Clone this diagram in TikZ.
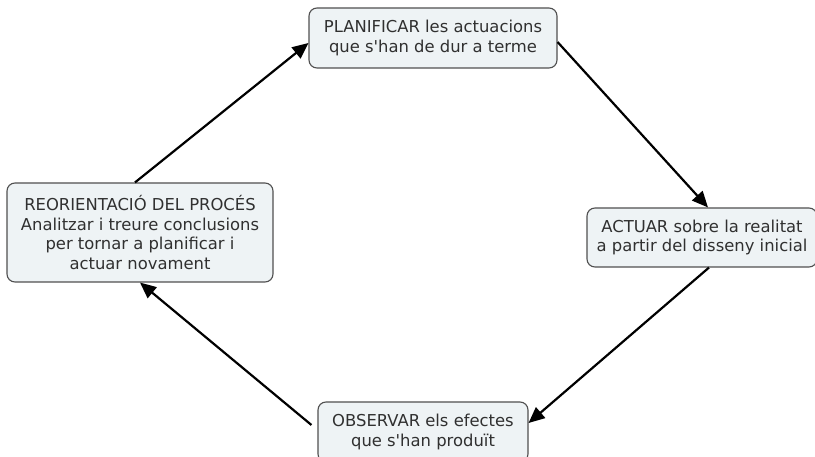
\documentclass[tikz,border=0pt]{standalone}
\usepackage{fontspec}
\setmainfont{DejaVu Sans}
\usetikzlibrary{arrows.meta}
\definecolor{boxfill}{HTML}{EEF3F5}
\definecolor{boxline}{HTML}{505050}
\definecolor{txt}{HTML}{303030}
\newcommand{\apos}{\textquotesingle}
\begin{document}
\begin{tikzpicture}[x=1pt,y=-1pt,
  cbox/.style={draw=boxline,line width=1.1pt,fill=boxfill,rounded corners=8pt,
    align=center,inner sep=0pt,text=txt,font=\fontsize{16.4}{19.5}\selectfont},
  conn/.style={line width=2.2pt,-{Triangle[length=16pt,width=14pt]}}]
\useasboundingbox (0,0) rectangle (815,457);
\clip (0,0) rectangle (815,457);
\node[cbox,minimum width=248pt,minimum height=60pt] (T) at (433,38)
  {PLANIFICAR les actuacions\\que s\apos han de dur a terme};
\node[cbox,minimum width=266pt,minimum height=99pt] (L) at (140,232.5)
  {REORIENTACIÓ DEL PROCÉS\\Analitzar i treure conclusions\\per tornar a planificar i\\actuar novament};
\node[cbox,minimum width=230pt,minimum height=59pt] (R) at (702,237.5)
  {ACTUAR sobre la realitat\\a partir del disseny inicial};
\node[cbox,minimum width=210pt,minimum height=60pt] (B) at (423,432)
  {OBSERVAR els efectes\\que s\apos han produït};
\draw[conn] ([xshift=-5pt]L.north) -- ([yshift=-5pt]T.west);
\draw[conn] ([yshift=-4pt]T.east) -- ([xshift=6pt]R.north);
\draw[conn] ([xshift=7pt]R.south) -- ([yshift=9pt]B.east);
\draw[conn] ([shift={(-6pt,7pt)}]B.west) -- (L.south);
\end{tikzpicture}
\end{document}
